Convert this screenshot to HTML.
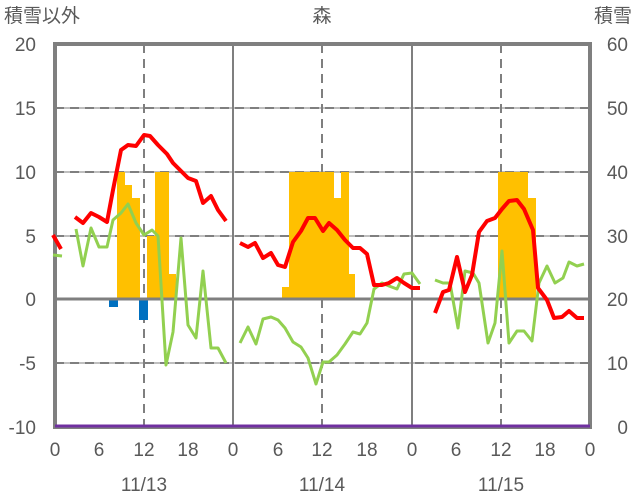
<!DOCTYPE html><html><head><meta charset="utf-8"><style>body{margin:0;background:#fff}svg{display:block}text{font-family:"Liberation Sans","Noto Sans CJK JP",sans-serif;fill:#595959;font-size:19px}</style></head><body>
<svg width="636" height="501" viewBox="0 0 636 501">
<g stroke="#bfbfbf" stroke-width="2"><line x1="55" x2="590" y1="108" y2="108"/><line x1="55" x2="590" y1="172" y2="172"/><line x1="55" x2="590" y1="236" y2="236"/><line x1="55" x2="590" y1="363" y2="363"/></g>
<g stroke="#7f7f7f" stroke-width="2" stroke-dasharray="9,6"><line x1="55" x2="590" y1="108" y2="108"/><line x1="55" x2="590" y1="172" y2="172"/><line x1="55" x2="590" y1="236" y2="236"/><line x1="55" x2="590" y1="363" y2="363"/><line x1="144" x2="144" y1="44" y2="427"/><line x1="322" x2="322" y1="44" y2="427"/><line x1="501" x2="501" y1="44" y2="427"/></g>
<g fill="#ffc000">
<rect x="117" y="172" width="8" height="127"/><rect x="125" y="185" width="7" height="114"/><rect x="132" y="198" width="8" height="101"/>
<rect x="147" y="236" width="8" height="63"/><rect x="155" y="172" width="14" height="127"/><rect x="169" y="274" width="7" height="25"/>
<rect x="282" y="287" width="7" height="12"/><rect x="289" y="172" width="45" height="127"/><rect x="334" y="198" width="7" height="101"/><rect x="341" y="172" width="8" height="127"/><rect x="349" y="274" width="6" height="25"/>
<rect x="498" y="172" width="30" height="127"/><rect x="528" y="198" width="8" height="101"/>
</g>
<g fill="#0070c0"><rect x="109" y="299" width="9" height="8"/><rect x="139" y="299" width="9" height="21"/></g>
<g stroke="#7f7f7f" fill="none"><rect x="55" y="44" width="535" height="383" stroke-width="4"/><line x1="55" x2="590" y1="299" y2="299" stroke-width="3"/><line x1="233" x2="233" y1="44" y2="427" stroke-width="2"/><line x1="412" x2="412" y1="44" y2="427" stroke-width="2"/></g>
<line x1="55" x2="590" y1="426" y2="426" stroke="#7030a0" stroke-width="3"/>
<g fill="none" stroke-width="4" stroke-linejoin="round">
<g stroke="#92d050" stroke-width="3">
<polyline points="53,255 62,256"/>
<polyline points="76,229 83,266 91,228 99,247 107,247 113,220 121,213 128,204 136,223 144,235 152,230 158,236 166,365 173,332 181,238 188,325 196,338 203,271 211,348 218,348 226,363"/>
<polyline points="240,343 248,327 256,344 263,319 271,317 278,320 285,328 293,342 301,347 308,358 316,384 323,362 329,362 337,355 345,344 353,332 360,334 367,323 374,289 382,283 389,286 397,289 404,274 412,273 420,284"/>
<polyline points="435,280 443,283 450,283 458,328 465,271 473,273 479,283 488,343 495,323 502,251 509,343 517,331 524,331 532,341 539,283 547,266 555,283 563,278 569,262 577,266 584,264"/>
</g>
<g stroke="#ff0000">
<polyline points="53,235 61,249"/>
<polyline points="75,217 83,223 91,213 99,217 107,222 113,190 121,150 128,145 136,146 144,135 150,136 158,145 167,154 173,163 182,172 188,178 196,181 203,203 211,196 218,210 226,221"/>
<polyline points="240,243 248,247 255,243 263,258 271,253 278,265 285,267 293,242 301,231 308,218 315,218 323,231 329,223 337,230 345,240 353,248 360,248 367,254 374,285 382,285 389,283 397,278 404,283 412,288 420,288"/>
<polyline points="435,313 443,292 449,290 457,257 465,292 472,275 479,232 487,221 495,218 502,209 509,201 517,200 524,209 533,230 538,288 547,300 554,318 562,317 569,311 577,318 584,318"/>
</g></g>
<g text-anchor="end"><text x="36" y="51">20</text><text x="36" y="115">15</text><text x="36" y="179">10</text><text x="36" y="243">5</text><text x="36" y="306">0</text><text x="36" y="370">-5</text><text x="36" y="434">-10</text></g>
<g text-anchor="end"><text x="628" y="51">60</text><text x="628" y="115">50</text><text x="628" y="179">40</text><text x="628" y="243">30</text><text x="628" y="306">20</text><text x="628" y="370">10</text><text x="628" y="434">0</text></g>
<g text-anchor="middle">
<text x="55" y="456">0</text><text x="99" y="456">6</text><text x="144" y="456">12</text><text x="188" y="456">18</text>
<text x="233" y="456">0</text><text x="278" y="456">6</text><text x="322" y="456">12</text><text x="367" y="456">18</text>
<text x="412" y="456">0</text><text x="456" y="456">6</text><text x="501" y="456">12</text><text x="545" y="456">18</text><text x="590" y="456">0</text>
<text x="144" y="491">11/13</text><text x="322" y="491">11/14</text><text x="501" y="491">11/15</text>
<text x="322" y="22">森</text></g>
<text x="4" y="22">積雪以外</text><text x="632" y="22" text-anchor="end">積雪</text>
</svg></body></html>
